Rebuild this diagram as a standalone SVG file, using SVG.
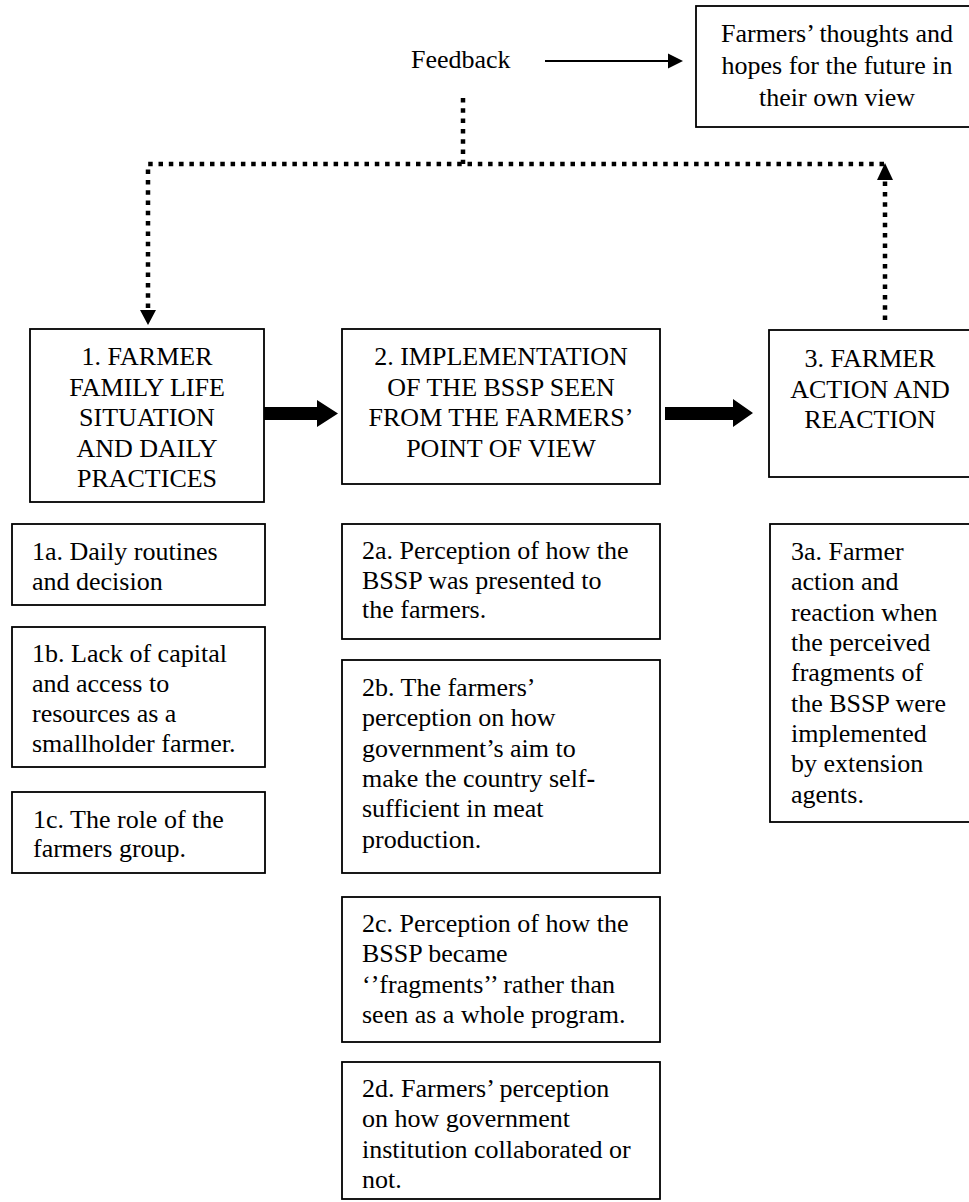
<svg xmlns="http://www.w3.org/2000/svg" width="969" height="1202" viewBox="0 0 969 1202">
<defs>
<style>
.box{fill:#fff;stroke:#000;stroke-width:1.8}
text{font-family:"Liberation Serif","Times New Roman",serif;font-size:26px;fill:#000}
.c{text-anchor:middle}
.dot{fill:none;stroke:#000;stroke-width:4.5;stroke-dasharray:4.5 5.8}
.thin{fill:none;stroke:#000;stroke-width:2.2}
.head{fill:#000;stroke:none}
</style>
</defs>
<rect width="969" height="1202" fill="#fff"/>

<g id="connectors">
  <line class="thin" x1="545" y1="61" x2="669" y2="61"/>
  <polygon class="head" points="668,53.5 683,61 668,68.5"/>
  <path class="dot" d="M463,98 V164"/>
  <path class="dot" d="M148,308 V164 H885"/>
  <path class="dot" d="M885,320 V180"/>
  <polygon class="head" points="140,310 156,310 148,325"/>
  <polygon class="head" points="877,180 893,180 885,163"/>
  <polygon class="head" points="264,407 317,407 317,400 338,413.5 317,427 317,420 264,420"/>
  <polygon class="head" points="665,407 733,407 733,399 753,413 733,427 733,420 665,420"/>
</g>

<g id="feedback">
  <text x="411" y="68">Feedback</text>
</g>

<g id="future">
  <rect class="box" x="696" y="6" width="290" height="121"/>
  <text class="c" x="837" y="41.5">Farmers’ thoughts and</text>
  <text class="c" x="837" y="73.5">hopes for the future in</text>
  <text class="c" x="837" y="105.5">their own view</text>
</g>

<g id="n1">
  <rect class="box" x="30" y="329" width="234" height="173"/>
  <text class="c" x="147" y="365">1. FARMER</text>
  <text class="c" x="147" y="395.5">FAMILY LIFE</text>
  <text class="c" x="147" y="426">SITUATION</text>
  <text class="c" x="147" y="456.5">AND DAILY</text>
  <text class="c" x="147" y="487">PRACTICES</text>
</g>

<g id="n2">
  <rect class="box" x="342" y="329" width="318" height="155"/>
  <text class="c" x="501" y="365">2. IMPLEMENTATION</text>
  <text class="c" x="501" y="395.5">OF THE BSSP SEEN</text>
  <text class="c" x="501" y="426">FROM THE FARMERS’</text>
  <text class="c" x="501" y="456.5">POINT OF VIEW</text>
</g>

<g id="n3">
  <rect class="box" x="769" y="330" width="220" height="147"/>
  <text class="c" x="870" y="367">3. FARMER</text>
  <text class="c" x="870" y="397.5">ACTION AND</text>
  <text class="c" x="870" y="428">REACTION</text>
</g>

<g id="n1a">
  <rect class="box" x="12" y="524" width="253" height="81"/>
  <text x="32" y="560">1a. Daily routines</text>
  <text x="32" y="590">and decision</text>
</g>

<g id="n1b">
  <rect class="box" x="12" y="627" width="253" height="140"/>
  <text x="32" y="662">1b. Lack of capital</text>
  <text x="32" y="692">and access to</text>
  <text x="32" y="722">resources as a</text>
  <text x="32" y="752">smallholder farmer.</text>
</g>

<g id="n1c">
  <rect class="box" x="12" y="792" width="253" height="81"/>
  <text x="33" y="828">1c. The role of the</text>
  <text x="33" y="857">farmers group.</text>
</g>

<g id="n2a">
  <rect class="box" x="342" y="524" width="318" height="115"/>
  <text x="362" y="559">2a. Perception of how the</text>
  <text x="362" y="588.5">BSSP was presented to</text>
  <text x="362" y="618">the farmers.</text>
</g>

<g id="n2b">
  <rect class="box" x="342" y="660" width="318" height="213"/>
  <text x="362" y="696">2b. The farmers’</text>
  <text x="362" y="726.3">perception on how</text>
  <text x="362" y="756.6">government’s aim to</text>
  <text x="362" y="787">make the country self<tspan font-weight="bold">-</tspan></text>
  <text x="362" y="817.3">sufficient in meat</text>
  <text x="362" y="847.6">production.</text>
</g>

<g id="n2c">
  <rect class="box" x="342" y="897" width="318" height="145"/>
  <text x="362" y="932">2c. Perception of how the</text>
  <text x="362" y="962.3">BSSP became</text>
  <text x="362" y="992.6">‘’fragments’’ rather than</text>
  <text x="362" y="1023">seen as a whole program.</text>
</g>

<g id="n2d">
  <rect class="box" x="342" y="1062" width="318" height="137"/>
  <text x="362" y="1097">2d. Farmers’ perception</text>
  <text x="362" y="1127.3">on how government</text>
  <text x="362" y="1157.6">institution collaborated or</text>
  <text x="362" y="1188">not.</text>
</g>

<g id="n3a">
  <rect class="box" x="770" y="524" width="220" height="298"/>
  <text x="791" y="560">3a. Farmer</text>
  <text x="791" y="590.3">action and</text>
  <text x="791" y="620.6">reaction when</text>
  <text x="791" y="651">the perceived</text>
  <text x="791" y="681.3">fragments of</text>
  <text x="791" y="711.6">the BSSP were</text>
  <text x="791" y="742">implemented</text>
  <text x="791" y="772.3">by extension</text>
  <text x="791" y="802.6">agents.</text>
</g>
</svg>
